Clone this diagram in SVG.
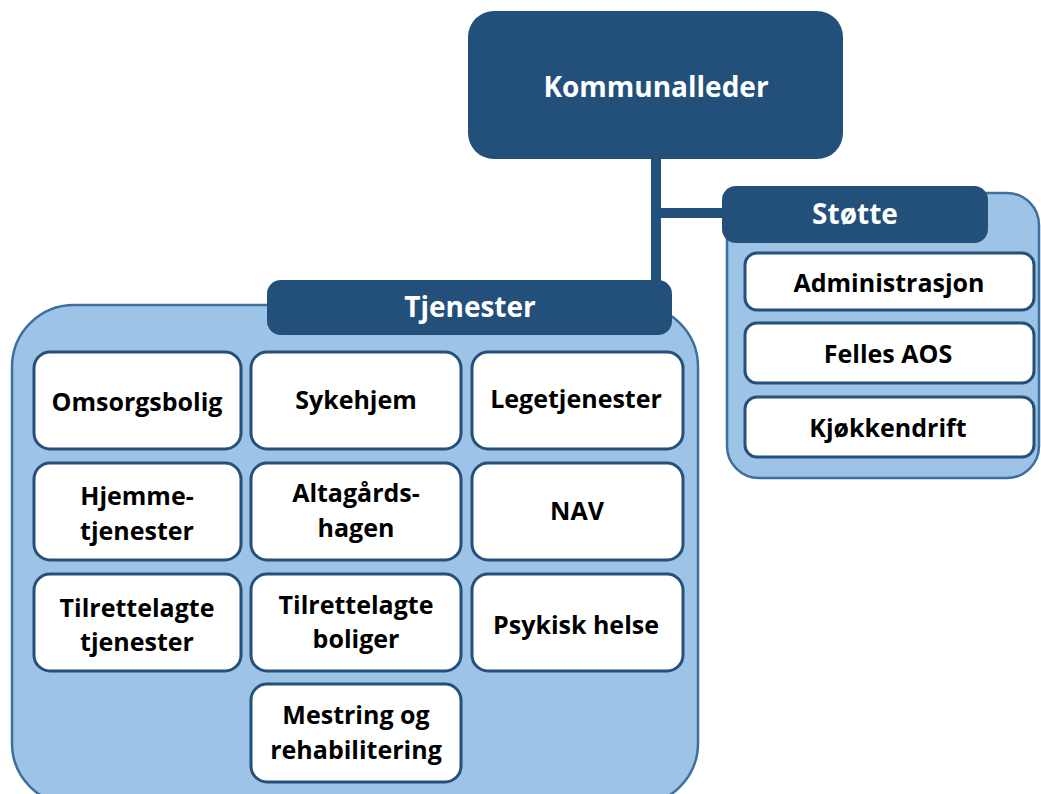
<svg xmlns="http://www.w3.org/2000/svg" width="1041" height="794" viewBox="0 0 1041 794">
<style>
.dark{fill:#22507b;}
.cont{fill:#9dc3e6;stroke:#3f6f9d;stroke-width:2.5;}
.box{fill:#ffffff;stroke:#24507a;stroke-width:3;}
.ht{font-family:"Open Sans",Lato,sans-serif;font-weight:bold;fill:#ffffff;text-anchor:middle;font-size:28px;}
.t{font-family:"Open Sans",Lato,sans-serif;font-weight:bold;fill:#000000;text-anchor:middle;font-size:25px;}
</style>
<rect width="1041" height="794" fill="#ffffff"/>
<g id="connectors">
<rect class="dark" x="651" y="150" width="10" height="140"/>
<rect class="dark" x="656" y="208" width="75" height="10"/>
</g>
<g id="kommunalleder">
<rect class="dark" x="468" y="11" width="375" height="148" rx="26"/>
<text class="ht" x="656" y="97">Kommunalleder</text>
</g>
<g id="stotte">
<rect class="cont" x="727" y="193" width="312" height="285" rx="32"/>
<rect class="dark" x="722" y="186" width="266" height="57" rx="14"/>
<text class="ht" x="855" y="224">Støtte</text>
</g>
<g id="administrasjon"><rect class="box" x="745" y="253" width="289" height="57" rx="12"/><text class="t" x="889" y="292">Administrasjon</text></g>
<g id="felles-aos"><rect class="box" x="745" y="323" width="289" height="60" rx="12"/><text class="t" x="888" y="363">Felles AOS</text></g>
<g id="kjokkendrift"><rect class="box" x="745" y="397" width="289" height="60" rx="12"/><text class="t" x="888" y="437">Kjøkkendrift</text></g>
<g id="tjenester">
<rect class="cont" x="12" y="305" width="686" height="500" rx="62"/>
<rect class="dark" x="267" y="280" width="405" height="55" rx="14"/>
<text class="ht" x="470" y="317">Tjenester</text>
</g>
<g id="omsorgsbolig"><rect class="box" x="34" y="352" width="207" height="97" rx="16"/><text class="t" x="137" y="411">Omsorgsbolig</text></g>
<g id="sykehjem"><rect class="box" x="251" y="352" width="210" height="97" rx="16"/><text class="t" x="356" y="409">Sykehjem</text></g>
<g id="legetjenester"><rect class="box" x="472" y="352" width="211" height="97" rx="16"/><text class="t" x="576" y="408">Legetjenester</text></g>
<g id="hjemmetjenester"><rect class="box" x="34" y="463" width="207" height="97" rx="16"/><text class="t" x="137" y="505">Hjemme-</text><text class="t" x="137" y="540">tjenester</text></g>
<g id="altagardshagen"><rect class="box" x="251" y="463" width="210" height="97" rx="16"/><text class="t" x="356" y="502">Altagårds-</text><text class="t" x="356" y="537">hagen</text></g>
<g id="nav"><rect class="box" x="472" y="463" width="211" height="97" rx="16"/><text class="t" x="577" y="520">NAV</text></g>
<g id="tilrettelagte-tjenester"><rect class="box" x="34" y="574" width="207" height="97" rx="16"/><text class="t" x="137" y="617">Tilrettelagte</text><text class="t" x="137" y="651">tjenester</text></g>
<g id="tilrettelagte-boliger"><rect class="box" x="251" y="574" width="210" height="97" rx="16"/><text class="t" x="356" y="614">Tilrettelagte</text><text class="t" x="356" y="648">boliger</text></g>
<g id="psykisk-helse"><rect class="box" x="472" y="574" width="211" height="97" rx="16"/><text class="t" x="576" y="634">Psykisk helse</text></g>
<g id="mestring"><rect class="box" x="251" y="684" width="210" height="98" rx="16"/><text class="t" x="356" y="724">Mestring og</text><text class="t" x="356" y="759">rehabilitering</text></g>
</svg>
